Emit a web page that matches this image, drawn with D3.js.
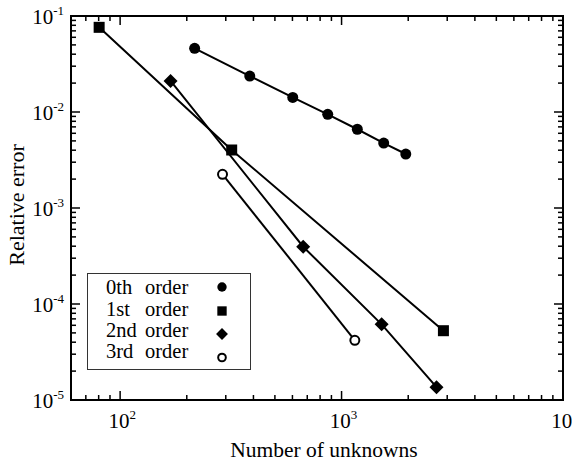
<!DOCTYPE html>
<html><head><meta charset="utf-8">
<script src="https://cdn.jsdelivr.net/npm/d3@7"></script>
<style>body{margin:0;background:#fff}svg{display:block}</style>
</head><body><svg id="c" width="572" height="466" font-family="'Liberation Serif', 'DejaVu Serif', 'Times New Roman', Times, serif"></svg>
<script>
const seriesNames = ["0th", "1st", "2nd", "3rd"];
const order0N = [217, 385, 602, 866, 1178, 1550, 1950];
const order0E = [0.0461, 0.0237, 0.0142, 0.00946, 0.00661, 0.00475, 0.00365];
const order1N = [80.4, 319, 2884];
const order1E = [0.0762, 0.00402, 5.27e-5];
const order2N = [169, 671, 1517, 2684];
const order2E = [0.02105, 3.95e-4, 6.14e-5, 1.36e-5];
const order3N = [290, 1148];
const order3E = [0.002245, 4.19e-5];
const xTickExps = [2, 3, 4];
const yTickExps = [-1, -2, -3, -4, -5];
const xLabel = "Number of unknowns";
const yLabel = "Relative error";

const svg = d3.select("#c");
const L = 71, R = 563, T = 16, B = 400;
const x = d3.scaleLog().domain([60, 10000]).range([L, R]);
const y = d3.scaleLog().domain([1e-5, 1e-1]).range([B, T]);

const series = [
  {name: seriesNames[0], N: order0N, E: order0E, sym: "circle"},
  {name: seriesNames[1], N: order1N, E: order1E, sym: "square"},
  {name: seriesNames[2], N: order2N, E: order2E, sym: "diamond"},
  {name: seriesNames[3], N: order3N, E: order3E, sym: "open"}
];

const xMajor = xTickExps.map(e => Math.pow(10, e));
const xMinor = [];
[1, 2, 3].forEach(e => { for (let k = 2; k <= 9; k++) { const v = k * Math.pow(10, e); if (v > 60 && v < 10000) xMinor.push(v); } });
const yMajor = yTickExps.map(e => Math.pow(10, e));
const yMinor = [];
[-5, -4, -3, -2].forEach(e => { for (let k = 2; k <= 9; k++) yMinor.push(k * Math.pow(10, e)); });

const tk = svg.append("g").attr("stroke", "#000").attr("stroke-width", 1.5);
function xt(v, len) {
  tk.append("line").attr("x1", x(v)).attr("x2", x(v)).attr("y1", B).attr("y2", B - len);
  tk.append("line").attr("x1", x(v)).attr("x2", x(v)).attr("y1", T).attr("y2", T + len);
}
function yt(v, len) {
  tk.append("line").attr("y1", y(v)).attr("y2", y(v)).attr("x1", L).attr("x2", L + len);
  tk.append("line").attr("y1", y(v)).attr("y2", y(v)).attr("x1", R).attr("x2", R - len);
}
xMajor.forEach(v => xt(v, 9));
xMinor.forEach(v => xt(v, 5));
yMajor.forEach(v => yt(v, 9));
yMinor.forEach(v => yt(v, 5));

svg.append("rect").attr("x", L).attr("y", T).attr("width", R - L).attr("height", B - T)
  .attr("fill", "none").attr("stroke", "#000").attr("stroke-width", 2);

xTickExps.forEach(e => {
  const t = svg.append("text").attr("x", x(Math.pow(10, e)) + 2).attr("y", 428)
    .attr("text-anchor", "middle").attr("font-size", 21).text("10");
  t.append("tspan").attr("dy", -9).attr("font-size", 13).text(e);
});
yTickExps.forEach(e => {
  const t = svg.append("text").attr("x", 64).attr("y", y(Math.pow(10, e)) + 8)
    .attr("text-anchor", "end").attr("font-size", 21).text("10");
  t.append("tspan").attr("dy", -9).attr("font-size", 13).text(e);
});

svg.append("text").attr("x", 324).attr("y", 457).attr("text-anchor", "middle")
  .attr("font-size", 21.5).text(xLabel);
svg.append("text").attr("transform", "translate(24,205) rotate(-90)").attr("text-anchor", "middle")
  .attr("font-size", 22).text(yLabel);

const line = d3.line().x(d => x(d[0])).y(d => y(d[1]));
function marker(g, sym, cx, cy, s) {
  if (sym === "circle") g.append("circle").attr("cx", cx).attr("cy", cy).attr("r", 5.5 * s).attr("fill", "#000");
  else if (sym === "square") g.append("rect").attr("x", cx - 5.5 * s).attr("y", cy - 5.5 * s).attr("width", 11 * s).attr("height", 11 * s).attr("fill", "#000");
  else if (sym === "diamond") { const r = 7 * s; g.append("path").attr("d", `M${cx},${cy - r}L${cx + r},${cy}L${cx},${cy + r}L${cx - r},${cy}Z`).attr("fill", "#000"); }
  else g.append("circle").attr("cx", cx).attr("cy", cy).attr("r", 4.5 * s).attr("fill", "#fff").attr("stroke", "#000").attr("stroke-width", 2);
}
series.forEach(s => {
  const pts = s.N.map((n, i) => [n, s.E[i]]);
  svg.append("path").attr("d", line(pts)).attr("fill", "none").attr("stroke", "#000").attr("stroke-width", 2);
});
series.forEach(s => {
  const g = svg.append("g");
  s.N.forEach((n, i) => marker(g, s.sym, x(n), y(s.E[i]), 1));
});

const lg = svg.append("g");
lg.append("rect").attr("x", 87.5).attr("y", 273.5).attr("width", 163).attr("height", 96)
  .attr("fill", "#fff").attr("stroke", "#333").attr("stroke-width", 1);
const rowY = [294, 315.5, 337, 358];
const markY = [287, 311, 334, 357.5];
series.forEach((s, i) => {
  const t = lg.append("text").attr("x", 106).attr("y", rowY[i]).attr("font-size", 20.5).text(s.name);
  t.append("tspan").attr("x", 145).text("order");
  marker(lg, s.sym, 222, markY[i], 0.85);
});
</script></body></html>
